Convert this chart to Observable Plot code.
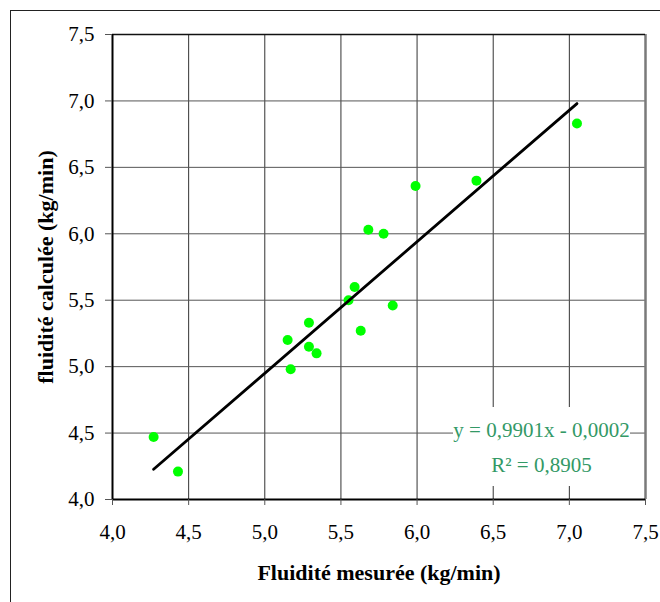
<!DOCTYPE html>
<html>
<head>
<meta charset="utf-8">
<script src="https://cdn.jsdelivr.net/npm/d3@7"></script>
<script src="https://cdn.jsdelivr.net/npm/@observablehq/plot@0.6"></script>
<style>
  html, body { margin: 0; padding: 0; background: #fff; overflow: hidden; }
  #wrap { position: relative; width: 660px; height: 602px; }
  #chart { position: absolute; left: 0; top: 0; }
  #border { position: absolute; left: 10px; top: 10px; width: 700px; height: 700px; border: 1px solid #222; }
</style>
</head>
<body>
<div id="wrap"><div id="chart"></div><div id="border"></div></div>
<script>
// Measured vs. calculated fluidity (kg/min)
const measured   = [4.27, 4.43, 5.15, 5.17, 5.29, 5.29, 5.34, 5.55, 5.59, 5.63, 5.68, 5.78, 5.84, 5.99, 6.39, 7.05];
const calculated = [4.47, 4.21, 5.20, 4.98, 5.33, 5.15, 5.10, 5.50, 5.60, 5.27, 6.03, 6.00, 5.46, 6.36, 6.40, 6.83];

// Linear trend line as reported on the chart
const slope = 0.9901;
const intercept = -0.0002;
const rSquared = 0.8905;

const ticks = [4.0, 4.5, 5.0, 5.5, 6.0, 6.5, 7.0, 7.5];
const xTitle = "Fluidité mesurée (kg/min)";
const yTitle = "fluidité calculée (kg/min)";

const comma = (v, d) => v.toFixed(d).replace(".", ",");
const points = measured.map((m, i) => ({measured: m, calculated: calculated[i]}));
const xMin = d3.min(measured), xMax = d3.max(measured);
const trend = [xMin, xMax].map(x => ({x, y: slope * x + intercept}));
const eqText = `y = ${comma(slope, 4)}x ${intercept < 0 ? "-" : "+"} ${comma(Math.abs(intercept), 4)}`;
const r2Text = `R² = ${comma(rSquared, 4)}`;

const green = "#339966";
const serif = "'Liberation Serif', 'Times New Roman', serif";

// White panel behind the equation label
const labelBox = (index, scales, values, dims) => {
  const right = dims.width - dims.marginRight;
  const bottom = dims.height - dims.marginBottom;
  return d3.create("svg:rect")
    .attr("x", right - 192).attr("y", bottom - 92)
    .attr("width", 177).attr("height", 79)
    .attr("fill", "white").node();
};

const chart = Plot.plot({
  width: 660,
  height: 602,
  marginLeft: 112,
  marginRight: 15,
  marginTop: 34,
  marginBottom: 103,
  style: {fontFamily: serif, fontSize: "21px", background: "transparent", color: "#000"},
  x: {domain: [4, 7.5]},
  y: {domain: [4, 7.5]},
  marks: [
    Plot.gridX(ticks, {stroke: "#333", strokeOpacity: 1}),
    Plot.gridY(ticks, {stroke: "#555", strokeOpacity: 1}),
    labelBox,
    Plot.ruleX([7.5], {stroke: "#7a7a7a", strokeWidth: 2.5}),
    Plot.ruleY([7.5], {stroke: "#111", strokeWidth: 1.5}),
    Plot.ruleX([4], {stroke: "#000", strokeWidth: 2}),
    Plot.ruleY([4], {stroke: "#000", strokeWidth: 2}),
    Plot.axisX(ticks, {tickSize: 6, tickPadding: 19, tickFormat: d => comma(d, 1), stroke: "#555", fill: "#000", label: null, fontSize: 21}),
    Plot.axisY(ticks, {tickSize: 7, tickPadding: 11, tickFormat: d => comma(d, 1), stroke: "#555", fill: "#000", label: null, fontSize: 21}),
    Plot.dot(points, {x: "measured", y: "calculated", r: 5, fill: "#00ff00", stroke: "none"}),
    Plot.line(trend, {x: "x", y: "y", stroke: "#000", strokeWidth: 2.8}),
    Plot.text([eqText], {frameAnchor: "bottom-right", dx: -104, dy: -69, textAnchor: "middle", lineAnchor: "middle", fill: green, fontSize: 21}),
    Plot.text([r2Text], {frameAnchor: "bottom-right", dx: -104, dy: -34, textAnchor: "middle", lineAnchor: "middle", fill: green, fontSize: 21}),
    Plot.text([xTitle], {frameAnchor: "bottom", dy: 73, textAnchor: "middle", lineAnchor: "middle", fontWeight: "bold", fontSize: 22}),
    Plot.text([yTitle], {frameAnchor: "left", dx: -67, rotate: -90, textAnchor: "middle", lineAnchor: "middle", fontWeight: "bold", fontSize: 22})
  ]
});
document.getElementById("chart").append(chart);
</script>
</body>
</html>
